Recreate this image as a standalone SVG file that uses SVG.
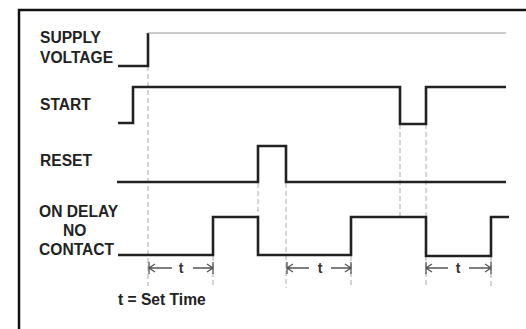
<svg xmlns="http://www.w3.org/2000/svg" width="526" height="329" viewBox="0 0 526 329">
<defs>
<style>
.lbl{font-family:"Liberation Sans",Arial,sans-serif;font-weight:bold;font-size:15.6px;fill:#222}
.t{font-family:"Liberation Sans",Arial,sans-serif;font-weight:bold;font-size:14px;fill:#333;text-anchor:middle}
.sig{fill:none;stroke:#222;stroke-width:2.6;stroke-linejoin:miter}
.thin{fill:none;stroke:#999;stroke-width:1}
.dash{fill:none;stroke:#aaa;stroke-width:1;stroke-dasharray:5 3}
.arr{fill:none;stroke:#555;stroke-width:1.3}
</style>
</defs>
<rect width="526" height="329" fill="#fff"/>
<g id="frame"><path d="M19,329 V10 H526" fill="none" stroke="#111" stroke-width="2.5"/></g>
<g id="labels">
<text class="lbl" x="40" y="43">SUPPLY</text>
<text class="lbl" x="40" y="63">VOLTAGE</text>
<text class="lbl" x="40" y="110">START</text>
<text class="lbl" x="40" y="166">RESET</text>
<text class="lbl" x="39" y="217">ON DELAY</text>
<text class="lbl" x="63" y="236">NO</text>
<text class="lbl" x="39" y="255">CONTACT</text>
<text class="lbl" x="118" y="305">t = Set Time</text>
</g>
<g id="connectors">
<path class="dash" d="M148,66 V286"/>
<path class="dash" d="M213,256 V288"/>
<path class="dash" d="M258,183 V217"/>
<path class="dash" d="M286,183 V288"/>
<path class="dash" d="M351,256 V288"/>
<path class="dash" d="M400,124 V217"/>
<path class="dash" d="M426,124 V217 M426,256 V288"/>
<path class="dash" d="M491,257 V288"/>
</g>
<g id="supply">
<path class="sig" d="M118,66 H148 V33"/>
<path class="thin" d="M148,33 H506"/>
</g>
<g id="start"><path class="sig" d="M118,123 H133 V87 H400 V124 H426 V87 H506"/></g>
<g id="reset"><path class="sig" d="M117,182 H258 V146 H286 V182 H506"/></g>
<g id="ondelay"><path class="sig" d="M118,255 H213 V217 H258 V255 H351 V217 H426 V256 H491 V217 H509"/></g>
<g id="arrows">
<g>
<path class="arr" d="M149,262 V274 M149,268 H172 M155,264 L149,268 L155,272"/>
<path class="arr" d="M193,268 H213 M213,262 V274 M207,264 L213,268 L207,272"/>
<text class="t" x="181" y="273">t</text>
</g>
<g>
<path class="arr" d="M287,262 V274 M287,268 H309 M293,264 L287,268 L293,272"/>
<path class="arr" d="M331,268 H351 M351,262 V274 M345,264 L351,268 L345,272"/>
<text class="t" x="320" y="273">t</text>
</g>
<g>
<path class="arr" d="M426,262 V274 M426,268 H448 M432,264 L426,268 L432,272"/>
<path class="arr" d="M469,268 H491 M491,262 V274 M485,264 L491,268 L485,272"/>
<text class="t" x="458" y="273">t</text>
</g>
</g>
</svg>
